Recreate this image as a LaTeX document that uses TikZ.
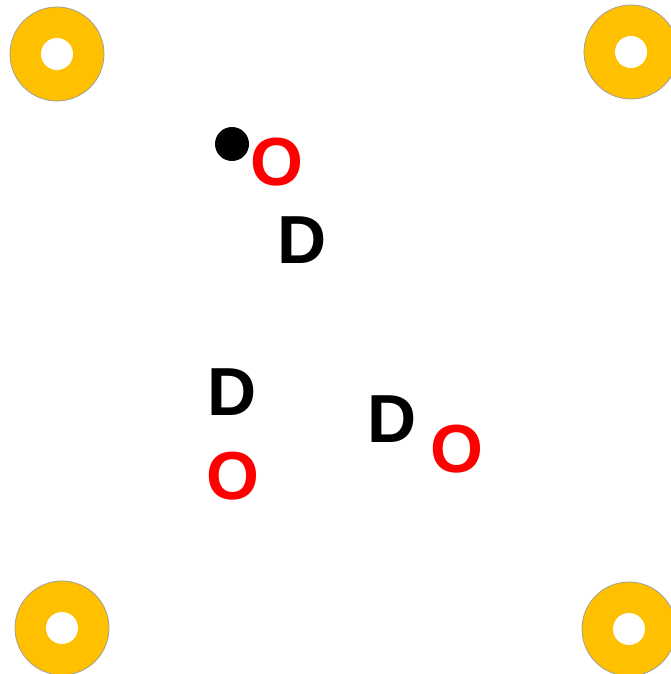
\documentclass[tikz,border=0pt]{standalone}
\usepackage{fontspec}
\setmainfont{Liberation Sans}
\definecolor{ringyellow}{RGB}{255,192,0}
\definecolor{ringedge}{RGB}{160,160,150}
\definecolor{letterred}{RGB}{255,0,0}
\tikzset{
  ring/.style={circle, fill=ringyellow, draw=ringedge, line width=0.8pt, minimum size=94pt, inner sep=0pt},
  hole/.style={circle, fill=white, minimum size=32pt, inner sep=0pt},
  letter/.style={inner sep=0pt, anchor=base, font=\fontsize{68}{68}\selectfont\bfseries},
  redletter/.style={letter, text=letterred},
  blackletter/.style={letter, text=black},
  dot/.style={circle, fill=black, minimum size=34pt, inner sep=0pt}
}
\begin{document}
\begin{tikzpicture}[x=1pt,y=-1pt]
\useasboundingbox (0,0) rectangle (671,674);
\fill[white] (0,0) rectangle (671,674);
\node[ring] (r1) at (57,54) {};
\node[hole] (h1) at (r1.center) {};
\node[ring] (r2) at (631,52) {};
\node[hole] (h2) at (r2.center) {};
\node[ring] (r3) at (62,628) {};
\node[hole] (h3) at (r3.center) {};
\node[ring] (r4) at (629,629) {};
\node[hole] (h4) at (r4.center) {};
\node[dot] (dot) at (232,144) {};
\node[redletter] (o1) at (277,185) {O};
\node[blackletter] (d1) at (302,263) {D};
\node[blackletter] (d2) at (232,415) {D};
\node[redletter] (o2) at (233,499) {O};
\node[blackletter] (d3) at (392,442) {D};
\node[redletter] (o3) at (457,472) {O};
\end{tikzpicture}
\end{document}
